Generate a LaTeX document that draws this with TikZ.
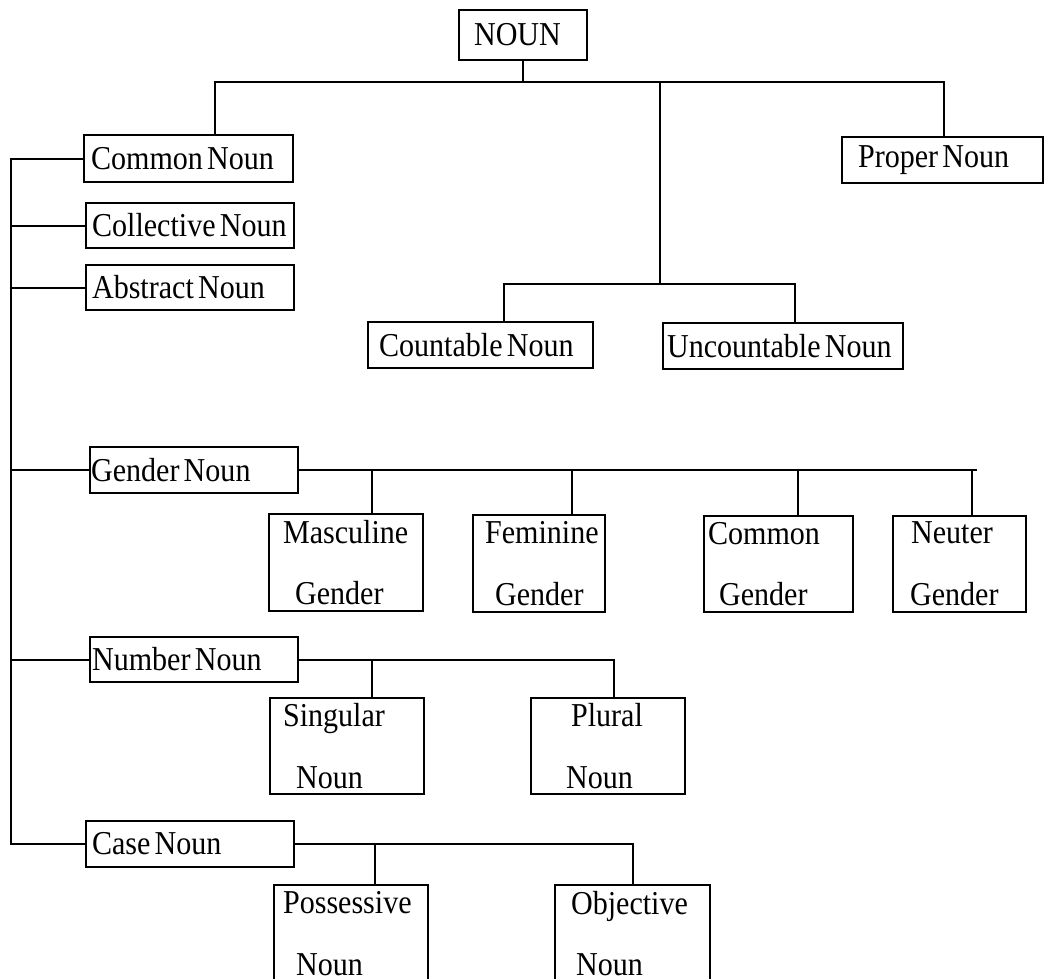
\documentclass[tikz,border=0pt]{standalone}
\usepackage{fontspec}
\setmainfont{Liberation Serif}[FakeStretch=0.9]
\usetikzlibrary{calc}
\tikzset {
  every node/.style={font=\fontsize{9.5}{17.6}\selectfont},
  box/.style={draw,inner sep=0pt,anchor=north west,align=left,
    execute at begin node={\spaceskip=1.2pt\relax}},
}

\begin{document}
\begin{tikzpicture}[x=0.01cm,y=-0.01cm,line width=0.6pt]
          \useasboundingbox (0,0) rectangle (1044,979);
          \coordinate (j1) at (215,82);
          \coordinate (j2) at (944,82);
          \coordinate (j3) at (660,82);
          \coordinate (c1) at (504,284);
          \coordinate (c2) at (795,284);
          \coordinate (trunk) at (11,0);
          \node[box,text width=1.28cm,minimum height=.5cm] (noun) at (458,9) {\hspace*{.15cm}NOUN};
          \node[box,text width=2.09cm,minimum height=.47cm] (common) at (83,134) {\hspace*{.07cm}Common Noun};
          \node[box,text width=2.08cm,minimum height=.45cm] (collective) at (85,202) {\hspace*{.06cm}Collective Noun};
          \node[box,text width=2.08cm,minimum height=.45cm] (abstract) at (85,264) {\hspace*{.06cm}Abstract Noun};
          \node[box,text width=2.01cm,minimum height=.46cm] (proper) at (841,136) {\hspace*{.16cm}Proper Noun};
          \node[box,text width=2.25cm,minimum height=.46cm] (countable) at (367,321) {\hspace*{.11cm}Countable Noun};
          \node[box,text width=2.40cm,minimum height=.46cm] (uncountable) at (662,322) {\hspace*{.04cm}Uncountable Noun};
          \node[box,text width=2.08cm,minimum height=.46cm] (gender) at (89,446) {\hspace*{.01cm}Gender Noun};
          \node[box,text width=1.54cm,minimum height=.97cm] (masculine) at (268,513) {\hspace*{.14cm}Masculine\\\hspace*{.26cm}Gender};
          \node[box,text width=1.32cm,minimum height=.97cm] (feminine) at (472,514) {\hspace*{.12cm}Feminine\\\hspace*{.22cm}Gender};
          \node[box,text width=1.49cm,minimum height=.96cm] (commongender) at (703,515) {\hspace*{.04cm}Common\\\hspace*{.15cm}Gender};
          \node[box,text width=1.33cm,minimum height=.96cm] (neuter) at (892,515) {\hspace*{.18cm}Neuter\\\hspace*{.17cm}Gender};
          \node[box,text width=2.08cm,minimum height=.45cm] (number) at (89,636) {\hspace*{.02cm}Number Noun};
          \node[box,text width=1.54cm,minimum height=.96cm] (singular) at (269,697) {\hspace*{.13cm}Singular\\\hspace*{.26cm}Noun};
          \node[box,text width=1.54cm,minimum height=.96cm] (plural) at (530,697) {\hspace*{.40cm}Plural\\\hspace*{.35cm}Noun};
          \node[box,text width=2.08cm,minimum height=.46cm] (casenoun) at (85,820) {\hspace*{.06cm}Case Noun};
          \node[box,text width=1.54cm,minimum height=.97cm] (possessive) at (273,884) {\hspace*{.09cm}Possessive\\\hspace*{.22cm}Noun};
          \node[box,text width=1.55cm,minimum height=.97cm] (objective) at (554,884) {\hspace*{.16cm}Objective\\\hspace*{.21cm}Noun};
          \draw (noun.south) -- (noun.south |- j1);
          \draw (common.north -| j1) |- (j2) -- (proper.north -| j2);
          \draw (j3) -- (j3 |- c1);
          \draw (countable.north -| c1) |- (c2) -- (uncountable.north -| c2);
          \draw (common.west) -- (common.west -| trunk) -- (casenoun.west -| trunk) -- (casenoun.west);
          \foreach \n in {collective,abstract,gender,number}
            \draw (\n.west) -- (\n.west -| trunk);
          \draw (gender.east) -- ++(678,0);
          \foreach \n/\x in {masculine/372,feminine/572,commongender/798,neuter/972}
            \draw (\n.north -| \x,0) -- (\x,0 |- gender.east);
          \draw (number.east) -| (plural.north -| 614,0);
          \draw (singular.north -| 372,0) -- (372,0 |- number.east);
          \draw (casenoun.east) -| (objective.north -| 633,0);
          \draw (possessive.north -| 375,0) -- (375,0 |- casenoun.east);
        \end{tikzpicture}
\end{document}
